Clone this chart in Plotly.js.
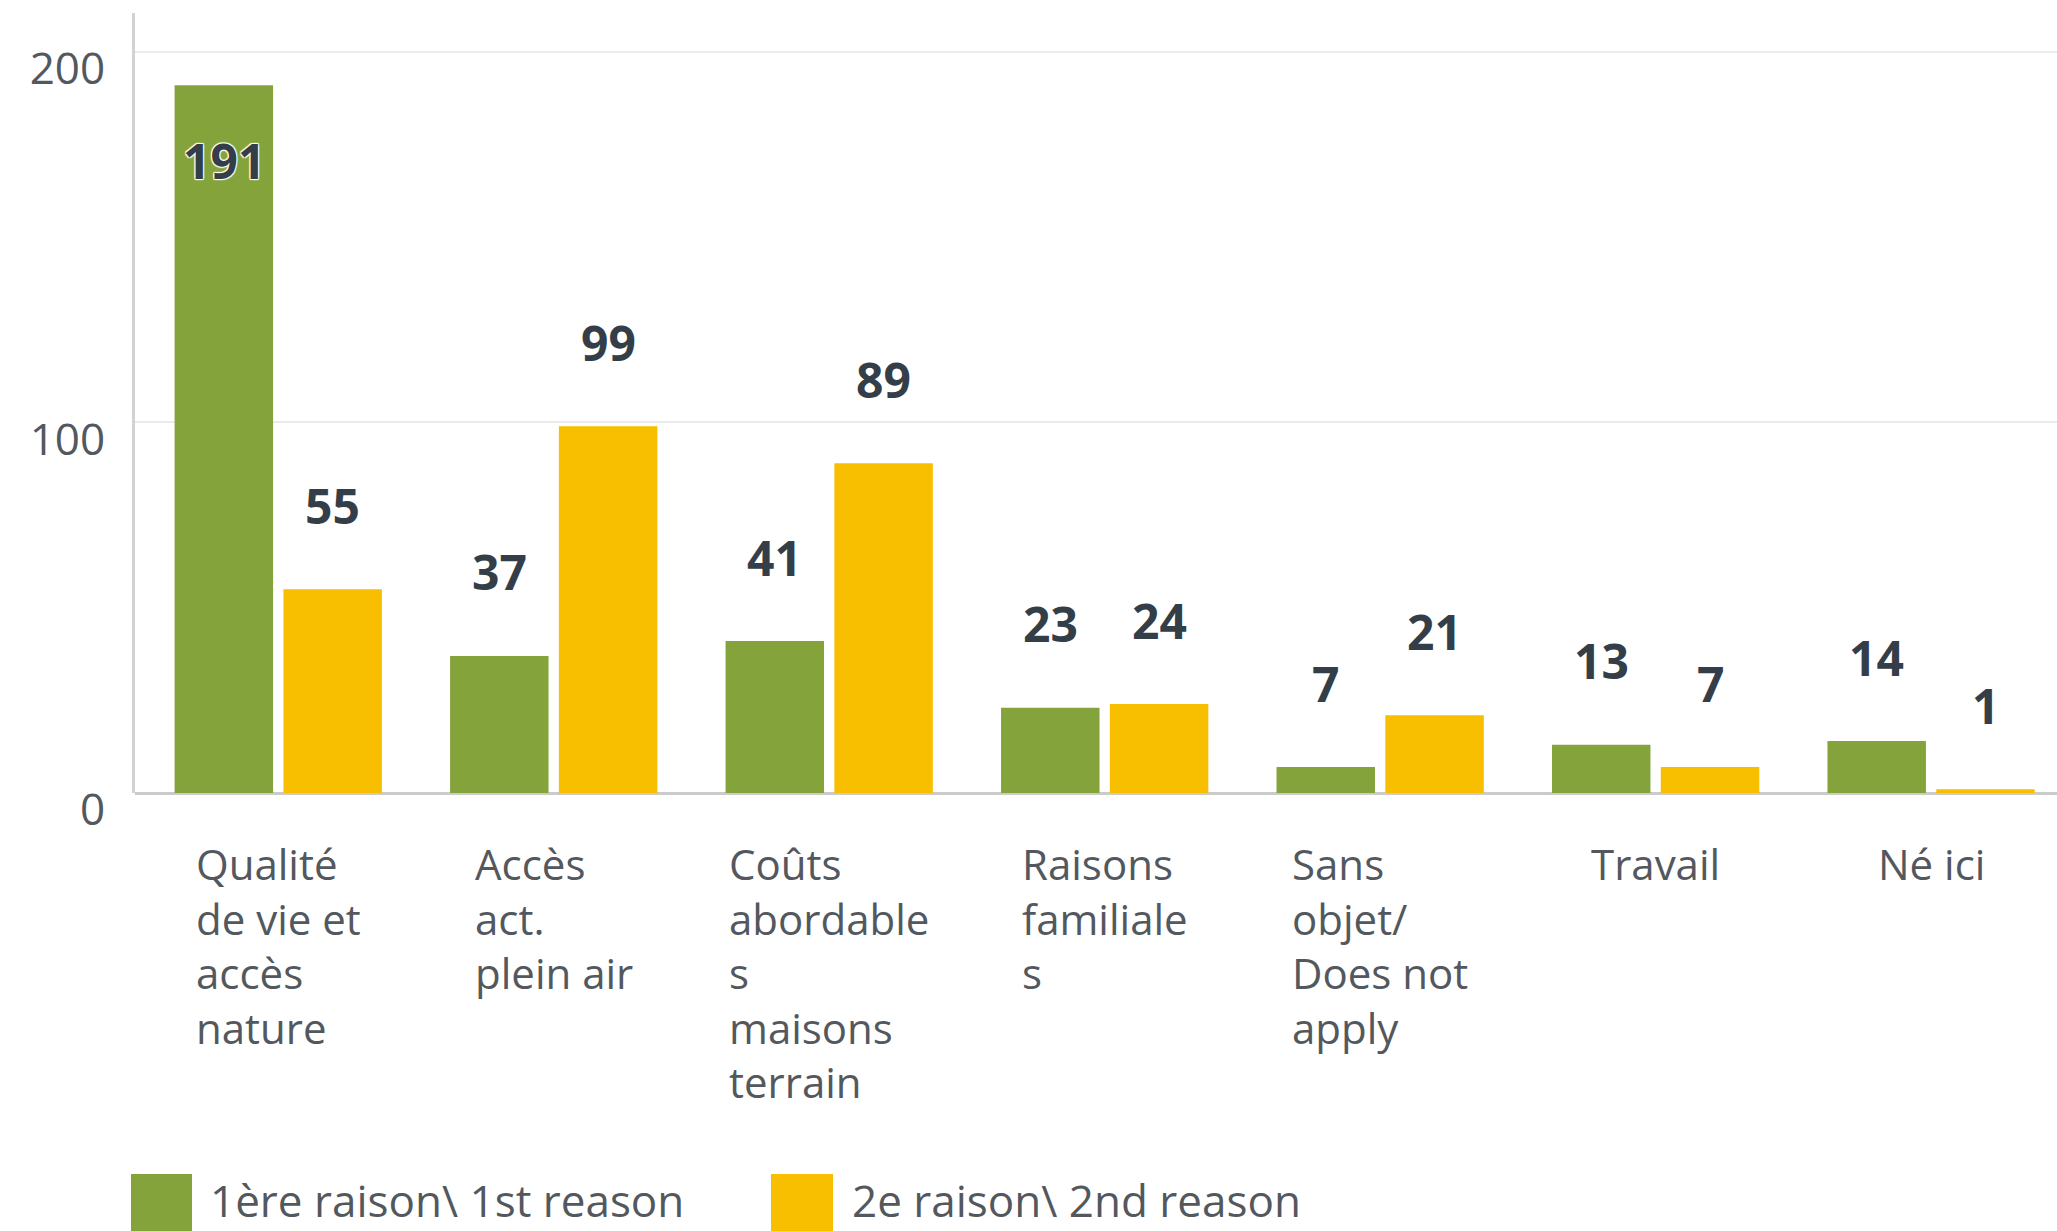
<!DOCTYPE html>
<html>
<head>
<meta charset="utf-8">
<script src="https://cdn.plot.ly/plotly-3.0.1.min.js"></script>
<style>
  html, body { margin: 0; padding: 0; background: #ffffff; }
  #chart { width: 2057px; height: 1231px; }
</style>
</head>
<body>
<div id="chart"></div>
<script>
// ---- data ----
const categories = [
  "Qualité de vie et accès nature",
  "Accès act. plein air",
  "Coûts abordables maisons terrain",
  "Raisons familiales",
  "Sans objet/ Does not apply",
  "Travail",
  "Né ici"
];
const categoryLabels = [
  "Qualité<br>de vie et<br>accès<br>nature",
  "Accès<br>act.<br>plein air",
  "Coûts<br>abordable<br>s<br>maisons<br>terrain",
  "Raisons<br>familiale<br>s",
  "Sans<br>objet/<br>Does not<br>apply",
  "Travail",
  "Né ici"
];
const firstReason = [191, 37, 41, 23, 7, 13, 14];
const secondReason = [55, 99, 89, 24, 21, 7, 1];
const seriesNames = ["1ère raison\\ 1st reason", "2e raison\\ 2nd reason"];
const yTicks = [0, 100, 200];

// ---- style ----
const GREEN = "#84a33b";
const YELLOW = "#f7bf00";
const LABEL_DARK = "#333e48";
const TEXT_GRAY = "#53585e";
const FONT = "'Open Sans', 'Noto Sans', sans-serif";

const W = 2057, H = 1231;
const margin = { l: 135, r: 0, t: 13, b: 438 };
const yMax = 210.5;
const plotH = H - margin.t - margin.b;
const pxPerUnit = plotH / yMax;
const bargap = 0.21;
const bargroupgap = 0.095;
const slotOffset = (1 - bargap) / 4;

const traces = [
  {
    type: "bar", name: seriesNames[0], x: categories, y: firstReason,
    marker: { color: GREEN }, hoverinfo: "x+y"
  },
  {
    type: "bar", name: seriesNames[1], x: categories, y: secondReason,
    marker: { color: YELLOW }, hoverinfo: "x+y"
  }
];

const annotations = [];
const halo = "1px 1px 1px #fff, -1px -1px 1px #fff, 1px -1px 1px #fff, -1px 1px 1px #fff";
[firstReason, secondReason].forEach((vals, s) => {
  vals.forEach((v, i) => {
    const inside = (v * pxPerUnit + 110) > plotH;
    annotations.push({
      xref: "x", yref: "y",
      x: i + (s === 0 ? -slotOffset : slotOffset),
      y: v,
      text: String(v),
      showarrow: false,
      xanchor: "center", yanchor: "middle",
      yshift: inside ? -75 : 84,
      font: { family: FONT, size: 48, color: LABEL_DARK, weight: 700, shadow: halo }
    });
  });
});

categoryLabels.forEach((lab, i) => {
  annotations.push({
    xref: "x", yref: "y", x: i, y: 0,
    text: lab, showarrow: false,
    xanchor: "center", yanchor: "top", align: "left",
    yshift: -40,
    font: { family: FONT, size: 42, color: TEXT_GRAY }
  });
});

// legend (drawn manually so swatches match the large reference size)
const px2x = px => (px - margin.l) / (W - margin.l - margin.r);
const px2y = py => (H - margin.b - py) / plotH;
const shapes = [
  { type: "rect", xref: "paper", yref: "paper",
    x0: px2x(131), x1: px2x(192), y0: px2y(1174), y1: px2y(1250),
    fillcolor: GREEN, line: { width: 0 } },
  { type: "rect", xref: "paper", yref: "paper",
    x0: px2x(771), x1: px2x(833), y0: px2y(1174), y1: px2y(1250),
    fillcolor: YELLOW, line: { width: 0 } }
];
annotations.push({
  xref: "paper", yref: "paper", x: px2x(208), y: px2y(1200),
  xanchor: "left", yanchor: "middle", showarrow: false,
  text: seriesNames[0], font: { family: FONT, size: 44, color: TEXT_GRAY }
});
annotations.push({
  xref: "paper", yref: "paper", x: px2x(850), y: px2y(1200),
  xanchor: "left", yanchor: "middle", showarrow: false,
  text: seriesNames[1], font: { family: FONT, size: 44, color: TEXT_GRAY }
});

const layout = {
  width: W, height: H,
  margin: margin,
  paper_bgcolor: "#ffffff", plot_bgcolor: "#ffffff",
  barmode: "group", bargap: bargap, bargroupgap: bargroupgap,
  showlegend: false,
  font: { family: FONT, color: TEXT_GRAY },
  xaxis: {
    type: "category",
    range: [-0.52, 6.457],
    showticklabels: false, showgrid: false, zeroline: false,
    showline: false, ticks: "", fixedrange: true
  },
  yaxis: {
    range: [0, yMax],
    tickvals: yTicks, ticktext: yTicks.map(String),
    tickfont: { family: FONT, size: 44, color: TEXT_GRAY },
    showgrid: true, gridcolor: "#ebebeb", gridwidth: 2,
    zeroline: true, zerolinecolor: "#cbcbcb", zerolinewidth: 3,
    showline: true, linecolor: "#d2d2d2", linewidth: 3,
    ticks: "", ticklabelstandoff: 18, ticklabelshift: 17,
    fixedrange: true
  },
  annotations: annotations,
  shapes: shapes
};

Plotly.newPlot("chart", traces, layout, { displayModeBar: false, staticPlot: true });
</script>
</body>
</html>
